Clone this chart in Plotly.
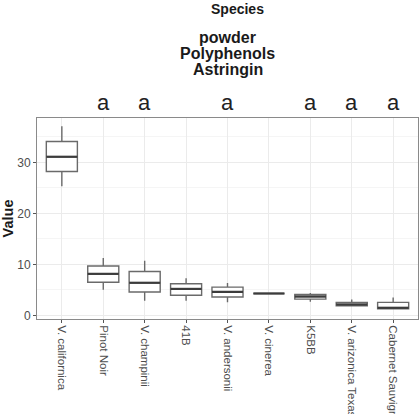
import plotly.graph_objects as go

# Astringin content in powder, per species (box statistics)
species = ["V. californica", "Pinot Noir", "V. champinii", "41B", "V. andersonii",
           "V. cinerea", "K5BB", "V. arizonica Texas", "Cabernet Sauvignon"]
upper_whisker = [37.1, 11.25, 10.7, 7.3, 6.35, 4.3, 4.4, 3.1, 3.5]
q3_values = [34.1, 9.7, 8.6, 6.2, 5.55, 4.3, 4.1, 2.55, 2.55]
median_values = [31.1, 8.15, 6.4, 5.2, 4.6, 4.3, 3.7, 2.15, 1.5]
q1_values = [28.2, 6.5, 4.6, 3.95, 3.6, 4.3, 3.2, 1.9, 1.3]
lower_whisker = [25.3, 5.05, 2.9, 2.9, 2.6, 4.3, 2.7, 1.9, 1.3]
group_letters = ["", "a", "a", "", "a", "", "a", "a", "a"]

y_ticks = [0, 10, 20, 30]

FONT = "Liberation Sans, Arial, Helvetica, sans-serif"
BOX_WIDTH = 0.75

fig = go.Figure()
fig.add_trace(go.Box(
    x=species,
    q1=q1_values,
    median=median_values,
    q3=q3_values,
    lowerfence=lower_whisker,
    upperfence=upper_whisker,
    width=BOX_WIDTH,
    whiskerwidth=0,
    fillcolor="white",
    line=dict(color="#6a6a6a", width=1.4),
    boxpoints=False,
    hoverinfo="skip",
    showlegend=False,
))

# thicker median bars, as in ggplot boxplots
for i, m in enumerate(median_values):
    fig.add_shape(type="line", xref="x", yref="y",
                  x0=i - BOX_WIDTH / 2, x1=i + BOX_WIDTH / 2, y0=m, y1=m,
                  line=dict(color="#3c3c3c", width=2.2))

# significance group letters above the panel
for name, letter in zip(species, group_letters):
    if letter:
        fig.add_annotation(x=name, xref="x", y=1.075, yref="paper",
                           text=letter, showarrow=False, yanchor="middle",
                           font=dict(family=FONT, size=22, color="#222222"))

# facet strip titles
fig.add_annotation(x=0.525, xref="paper", y=1.54, yref="paper", text="<b>Species</b>",
                   showarrow=False, yanchor="middle",
                   font=dict(family=FONT, size=14, color="#1a1a1a"))
for txt, yy in [("powder", 1.40), ("Polyphenols", 1.322), ("Astringin", 1.243)]:
    fig.add_annotation(x=0.5, xref="paper", y=yy, yref="paper", text="<b>%s</b>" % txt,
                       showarrow=False, yanchor="middle",
                       font=dict(family=FONT, size=16, color="#1a1a1a"))

fig.update_layout(
    width=420, height=414,
    margin=dict(l=37, r=2, t=118, b=95),
    paper_bgcolor="white", plot_bgcolor="white",
    font=dict(family=FONT),
    xaxis=dict(
        type="category", range=[-0.6, 8.6], automargin=False,
        tickangle=90, tickfont=dict(size=11.5, color="#4d4d4d"),
        ticks="outside", ticklen=3, tickcolor="#555555", tickwidth=1,
        showgrid=True, gridcolor="#ebebeb", gridwidth=0.8,
        showline=True, linecolor="#8a8a8a", linewidth=1, mirror=True,
        zeroline=False,
    ),
    yaxis=dict(
        range=[-0.7, 38.7], tickvals=y_ticks, automargin=False,
        tickfont=dict(size=12, color="#4d4d4d"),
        ticks="outside", ticklen=3, tickcolor="#555555", tickwidth=1,
        showgrid=True, gridcolor="#ebebeb", gridwidth=0.8,
        minor=dict(dtick=5, showgrid=True, gridcolor="#f5f5f5", gridwidth=0.6),
        showline=True, linecolor="#8a8a8a", linewidth=1, mirror=True,
        zeroline=False,
        title=dict(text="<b>Value</b>", font=dict(size=14.5, color="#1a1a1a"), standoff=3),
    ),
)

fig.write_html("out.html")
